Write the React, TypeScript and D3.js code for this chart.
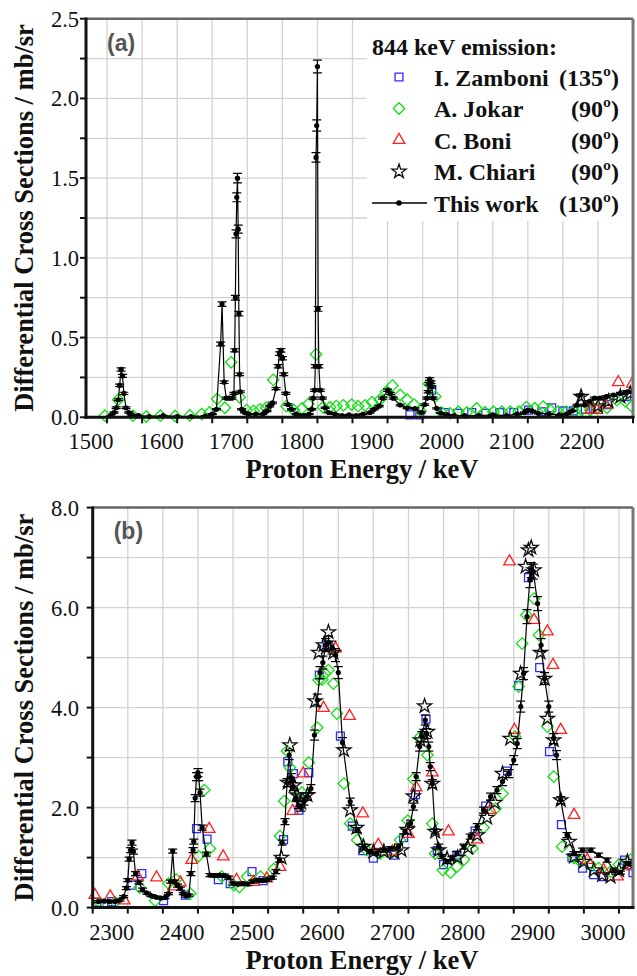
import React from 'react';
import * as d3 from 'd3';

type Pt = [number, number];
type EPt = [number, number, number];

// ---------- panel (a) : 1470 - 2250 keV ----------
const A_ZAMBONI: Pt[] = [
  [1932, 0.015], [1946, 0.015], [1963, 0.17], [1982, 0.03], [2000, 0.025], [2020, 0.03],
  [2040, 0.025], [2060, 0.03], [2080, 0.03], [2101, 0.045], [2120, 0.035], [2134, 0.06],
  [2150, 0.04], [2165, 0.04], [2182, 0.05], [2196, 0.05], [2214, 0.08], [2241, 0.13],
];
const A_JOKAR: Pt[] = [
  [1497, 0.01], [1516, 0.11], [1537, 0.01], [1556, 0.005], [1576, 0.01], [1597, 0.008],
  [1618, 0.012], [1635, 0.02], [1646, 0.03], [1657, 0.115], [1668, 0.06], [1677, 0.345],
  [1689, 0.125], [1699, 0.045], [1709, 0.04], [1718, 0.05], [1727, 0.06], [1737, 0.235],
  [1756, 0.07], [1766, 0.046], [1778, 0.056], [1787, 0.083], [1798, 0.395], [1808, 0.063],
  [1818, 0.063], [1827, 0.07], [1837, 0.075], [1849, 0.08], [1858, 0.07], [1868, 0.075],
  [1878, 0.095], [1889, 0.11], [1898, 0.16], [1907, 0.2], [1918, 0.14], [1928, 0.11],
  [1938, 0.08], [1947, 0.04], [1959, 0.21], [1968, 0.13], [1977, 0.03], [1989, 0.025],
  [2001, 0.035], [2013, 0.03], [2027, 0.055], [2039, 0.03], [2051, 0.035], [2063, 0.035],
  [2075, 0.035], [2087, 0.035], [2098, 0.064], [2110, 0.057], [2122, 0.067], [2132, 0.046],
  [2143, 0.036], [2155, 0.036], [2167, 0.036], [2177, 0.046], [2189, 0.046], [2199, 0.057],
  [2213, 0.06], [2227, 0.108], [2239, 0.1], [2248, 0.07],
];
const A_BONI: Pt[] = [
  [2190, 0.045], [2198, 0.045], [2211, 0.08], [2229, 0.22], [2249, 0.21],
];
const A_CHIARI: Pt[] = [
  [2176, 0.13], [2200, 0.07], [2215, 0.1], [2232, 0.13], [2246, 0.15],
];
const A_THIS: EPt[] = [
  [1505, 0.01, 0.003], [1510, 0.03, 0.004], [1513, 0.06, 0.005], [1516, 0.11, 0.006],
  [1518, 0.2, 0.008], [1520, 0.3, 0.01], [1522, 0.26, 0.009], [1524, 0.15, 0.007],
  [1527, 0.06, 0.005], [1531, 0.03, 0.004], [1536, 0.015, 0.003], [1545, 0.01, 0.003],
  [1560, 0.005, 0.003], [1580, 0.01, 0.003], [1600, 0.005, 0.003], [1620, 0.005, 0.003],
  [1640, 0.008, 0.003], [1650, 0.02, 0.003], [1656, 0.05, 0.004], [1662, 0.46, 0.012],
  [1664, 0.71, 0.014], [1667, 0.22, 0.008], [1670, 0.12, 0.006], [1674, 0.12, 0.006],
  [1678, 0.12, 0.006], [1681, 0.15, 0.006], [1682, 0.42, 0.01], [1683, 0.75, 0.015],
  [1684, 1.15, 0.025], [1685, 1.38, 0.028], [1686, 1.5, 0.03], [1687, 1.18, 0.025],
  [1688, 0.65, 0.014], [1689, 0.27, 0.008], [1690, 0.16, 0.006], [1692, 0.05, 0.004],
  [1696, 0.03, 0.003], [1702, 0.02, 0.003], [1712, 0.02, 0.003], [1722, 0.02, 0.003],
  [1728, 0.04, 0.004], [1732, 0.07, 0.005], [1736, 0.09, 0.005], [1741, 0.18, 0.007],
  [1744, 0.32, 0.01], [1746, 0.4, 0.011], [1748, 0.42, 0.011], [1750, 0.37, 0.01],
  [1752, 0.27, 0.009], [1755, 0.15, 0.006], [1758, 0.08, 0.005], [1763, 0.05, 0.004],
  [1770, 0.02, 0.003], [1780, 0.01, 0.003], [1788, 0.02, 0.003], [1792, 0.05, 0.004],
  [1794, 0.12, 0.006], [1796, 0.17, 0.007], [1797, 0.32, 0.01], [1798, 1.63, 0.03],
  [1799, 1.83, 0.035], [1800, 2.2, 0.04], [1801, 0.68, 0.015], [1802, 0.32, 0.01],
  [1804, 0.17, 0.007], [1807, 0.12, 0.006], [1811, 0.06, 0.004], [1816, 0.03, 0.003],
  [1825, 0.02, 0.003], [1835, 0.01, 0.003], [1845, 0.015, 0.003], [1855, 0.01, 0.003],
  [1865, 0.02, 0.003], [1875, 0.03, 0.004], [1881, 0.05, 0.004], [1888, 0.07, 0.005],
  [1893, 0.12, 0.006], [1900, 0.17, 0.007], [1904, 0.15, 0.006], [1908, 0.12, 0.006],
  [1918, 0.077, 0.005], [1928, 0.058, 0.004], [1939, 0.055, 0.004], [1948, 0.03, 0.004],
  [1953, 0.08, 0.005], [1956, 0.12, 0.006], [1958, 0.16, 0.007], [1959, 0.21, 0.008],
  [1960, 0.24, 0.009], [1962, 0.22, 0.008], [1963, 0.19, 0.007], [1965, 0.12, 0.006],
  [1970, 0.056, 0.004], [1976, 0.027, 0.003], [1985, 0.015, 0.003], [1995, 0.01, 0.003],
  [2010, 0.01, 0.003], [2030, 0.01, 0.003], [2050, 0.015, 0.003], [2070, 0.01, 0.003],
  [2085, 0.02, 0.003], [2095, 0.03, 0.004], [2100, 0.045, 0.004], [2106, 0.04, 0.004],
  [2115, 0.025, 0.003], [2130, 0.02, 0.003], [2145, 0.015, 0.003], [2155, 0.02, 0.003],
  [2163, 0.04, 0.004], [2170, 0.077, 0.005], [2175, 0.14, 0.006], [2181, 0.077, 0.005],
  [2188, 0.1, 0.005], [2195, 0.12, 0.006], [2203, 0.12, 0.006], [2212, 0.13, 0.006],
  [2222, 0.14, 0.006], [2232, 0.15, 0.006], [2242, 0.16, 0.007], [2250, 0.16, 0.007],
];

// ---------- panel (b) : 2250 - 3020 keV ----------
const B_ZAMBONI: Pt[] = [
  [2256, 0.11], [2277, 0.12], [2306, 0.45], [2320, 0.68], [2351, 0.14], [2382, 0.25],
  [2398, 1.58], [2413, 1.37], [2429, 0.56], [2446, 0.48], [2477, 0.72], [2493, 0.54],
  [2522, 1.36], [2528, 2.92], [2536, 2.68], [2544, 1.95], [2558, 2.7], [2573, 4.65],
  [2584, 5.25], [2603, 3.43], [2620, 1.63], [2635, 1.14], [2650, 0.99], [2679, 1.05],
  [2693, 1.4], [2710, 2.26], [2725, 3.77], [2741, 1.14], [2750, 0.86], [2769, 1.05],
  [2795, 1.53], [2810, 2.03], [2841, 2.73], [2857, 4.44], [2871, 6.6], [2887, 4.8],
  [2901, 3.12], [2918, 1.66], [2933, 1.0], [2948, 0.79], [2964, 0.66], [2978, 0.62],
  [3008, 0.95], [3020, 0.7],
];
const B_JOKAR: Pt[] = [
  [2260, 0.1], [2282, 0.11], [2317, 0.4], [2339, 0.14], [2358, 0.48], [2369, 0.56],
  [2389, 0.28], [2401, 1.03], [2409, 2.35], [2417, 1.18], [2434, 0.62], [2451, 0.45],
  [2459, 0.41], [2470, 0.62], [2489, 0.62], [2508, 0.77], [2517, 1.43], [2523, 2.13],
  [2527, 3.13], [2531, 2.8], [2548, 2.3], [2558, 2.9], [2570, 3.6], [2572, 4.55],
  [2577, 4.56], [2581, 4.68], [2586, 4.75], [2593, 4.48], [2598, 3.88], [2608, 2.48],
  [2617, 1.68], [2627, 1.35], [2640, 1.15], [2660, 1.08], [2675, 1.1], [2688, 1.35],
  [2699, 1.74], [2707, 2.57], [2717, 3.42], [2727, 3.05], [2734, 1.68], [2738, 1.08],
  [2749, 0.75], [2760, 0.7], [2769, 0.82], [2779, 0.96], [2791, 1.18], [2807, 1.6],
  [2824, 1.98], [2834, 2.28], [2852, 3.42], [2857, 4.42], [2862, 5.28], [2868, 5.85],
  [2879, 6.18], [2886, 5.45], [2898, 3.62], [2907, 2.62], [2919, 1.22], [2936, 0.99],
  [2945, 0.92], [2959, 0.86], [2971, 0.79], [2988, 0.72], [3000, 0.86], [3017, 0.96],
];
const B_BONI: Pt[] = [
  [2253, 0.25], [2275, 0.22], [2295, 0.14], [2314, 0.62], [2341, 0.6], [2365, 0.42],
  [2375, 0.5], [2391, 0.95], [2416, 1.57], [2436, 1.02], [2455, 0.55], [2479, 0.51],
  [2498, 0.58], [2517, 0.81], [2535, 1.93], [2550, 2.68], [2579, 3.99], [2596, 5.18],
  [2616, 3.83], [2635, 1.88], [2657, 1.25], [2677, 1.12], [2700, 1.47], [2711, 2.4],
  [2734, 2.7], [2757, 1.52], [2798, 1.36], [2817, 1.95], [2844, 6.92], [2851, 3.55],
  [2879, 5.75], [2898, 5.52], [2906, 4.85], [2917, 3.55], [2936, 1.85], [2955, 0.95],
  [2978, 0.75], [2998, 0.62], [3019, 0.82],
];
const B_CHIARI: Pt[] = [
  [2519, 1.0], [2528, 2.5], [2531, 3.25], [2537, 2.45], [2541, 2.25], [2547, 2.1],
  [2556, 2.25], [2567, 4.13], [2572, 5.1], [2579, 5.25], [2586, 5.51], [2593, 5.1],
  [2608, 3.15], [2617, 1.95], [2626, 1.6], [2636, 1.22], [2650, 1.12], [2665, 1.12],
  [2680, 1.1], [2690, 1.15], [2698, 1.56], [2707, 2.23], [2717, 3.35], [2723, 4.03],
  [2727, 3.52], [2734, 2.48], [2738, 1.52], [2743, 1.15], [2755, 0.98], [2770, 1.0],
  [2785, 1.2], [2798, 1.45], [2812, 1.8], [2823, 2.1], [2834, 2.68], [2845, 3.38],
  [2860, 4.68], [2867, 6.82], [2871, 7.15], [2875, 7.2], [2879, 6.75], [2888, 5.1],
  [2894, 4.58], [2898, 3.78], [2907, 3.35], [2917, 2.15], [2929, 1.32], [2936, 1.02],
  [2950, 0.92], [2964, 0.75], [2976, 0.65], [2988, 0.62], [3000, 0.75], [3012, 0.92],
];
const B_THIS: EPt[] = [
  [2258, 0.12, 0.02], [2266, 0.13, 0.02], [2274, 0.12, 0.02], [2282, 0.12, 0.02],
  [2289, 0.15, 0.02], [2294, 0.22, 0.02], [2298, 0.39, 0.03], [2300, 0.55, 0.03],
  [2302, 0.97, 0.04], [2304, 1.15, 0.05], [2306, 1.3, 0.05], [2308, 1.12, 0.05],
  [2311, 0.68, 0.04], [2316, 0.5, 0.03], [2321, 0.36, 0.03], [2327, 0.29, 0.02],
  [2333, 0.24, 0.02], [2340, 0.21, 0.02], [2347, 0.19, 0.02], [2353, 0.2, 0.02],
  [2358, 0.28, 0.02], [2361, 0.52, 0.03], [2364, 1.13, 0.04], [2367, 0.52, 0.03],
  [2371, 0.44, 0.03], [2375, 0.38, 0.03], [2379, 0.28, 0.02], [2383, 0.23, 0.02],
  [2387, 0.25, 0.02], [2390, 0.68, 0.04], [2393, 1.15, 0.05], [2394, 1.32, 0.05],
  [2396, 2.19, 0.07], [2398, 2.62, 0.08], [2400, 2.7, 0.08], [2401, 2.62, 0.08],
  [2403, 2.3, 0.07], [2406, 1.6, 0.05], [2412, 1.07, 0.04], [2417, 0.65, 0.03],
  [2424, 0.64, 0.03], [2431, 0.65, 0.03], [2438, 0.64, 0.03], [2444, 0.6, 0.03],
  [2450, 0.48, 0.03], [2457, 0.47, 0.03], [2464, 0.48, 0.03], [2471, 0.47, 0.03],
  [2478, 0.52, 0.03], [2485, 0.55, 0.03], [2492, 0.54, 0.03], [2499, 0.56, 0.03],
  [2506, 0.6, 0.03], [2511, 0.72, 0.04], [2516, 0.95, 0.04], [2520, 1.3, 0.05],
  [2524, 1.72, 0.06], [2527, 2.5, 0.08], [2530, 3.05, 0.09], [2533, 2.6, 0.08],
  [2536, 2.42, 0.08], [2540, 2.2, 0.07], [2543, 2.05, 0.07], [2547, 2.0, 0.07],
  [2551, 2.12, 0.07], [2556, 2.22, 0.07], [2561, 2.38, 0.08], [2566, 3.45, 0.1],
  [2570, 4.15, 0.12], [2574, 4.7, 0.12], [2578, 4.9, 0.13], [2582, 5.25, 0.13],
  [2586, 5.3, 0.13], [2591, 5.2, 0.13], [2596, 5.05, 0.13], [2600, 4.7, 0.12],
  [2606, 3.3, 0.1], [2617, 2.12, 0.07], [2627, 1.55, 0.05], [2636, 1.22, 0.05],
  [2646, 1.12, 0.04], [2655, 1.09, 0.04], [2665, 1.15, 0.04], [2674, 1.18, 0.04],
  [2686, 1.22, 0.05], [2695, 1.52, 0.05], [2703, 1.69, 0.06], [2707, 2.02, 0.07],
  [2711, 2.62, 0.08], [2716, 3.22, 0.09], [2719, 3.42, 0.1], [2724, 3.75, 0.1],
  [2726, 3.48, 0.1], [2729, 3.22, 0.09], [2731, 2.82, 0.08], [2734, 2.48, 0.08],
  [2738, 1.52, 0.05], [2743, 1.22, 0.05], [2748, 1.02, 0.04], [2755, 0.92, 0.04],
  [2762, 0.98, 0.04], [2769, 1.08, 0.04], [2779, 1.22, 0.05], [2788, 1.42, 0.05],
  [2798, 1.62, 0.06], [2807, 1.95, 0.06], [2817, 2.22, 0.07], [2826, 2.35, 0.07],
  [2834, 2.52, 0.08], [2843, 2.68, 0.08], [2850, 2.95, 0.09], [2855, 3.28, 0.1],
  [2860, 4.02, 0.11], [2864, 4.68, 0.12], [2869, 5.82, 0.14], [2873, 6.55, 0.15],
  [2875, 6.75, 0.15], [2878, 6.72, 0.15], [2884, 6.08, 0.14], [2889, 5.25, 0.13],
  [2894, 4.58, 0.12], [2900, 4.02, 0.11], [2907, 3.38, 0.1], [2911, 3.05, 0.09],
  [2917, 2.15, 0.07], [2926, 1.45, 0.05], [2936, 1.08, 0.04], [2948, 1.15, 0.04],
  [2960, 1.15, 0.04], [2971, 1.05, 0.04], [2983, 0.95, 0.04], [2993, 0.74, 0.03],
  [3002, 0.7, 0.03], [3012, 0.88, 0.04], [3020, 0.92, 0.04],
];

const A_XLABELS = [1500, 1600, 1700, 1800, 1900, 2000, 2100, 2200];
const A_YLABELS = [0, 0.5, 1.0, 1.5, 2.0, 2.5];
const B_XLABELS = [2300, 2400, 2500, 2600, 2700, 2800, 2900, 3000];
const B_YLABELS = [0, 2, 4, 6, 8];

const LEGEND = [
  { kind: 'square', name: 'I. Zamboni', angle: '(135º)' },
  { kind: 'diamond', name: 'A. Jokar', angle: '(90º)' },
  { kind: 'triangle', name: 'C. Boni', angle: '(90º)' },
  { kind: 'star', name: 'M. Chiari', angle: '(90º)' },
  { kind: 'this', name: 'This work', angle: '(130º)' },
];

const SERIF = '"Liberation Serif", "Times New Roman", serif';
const SANS = '"Liberation Sans", Arial, sans-serif';

const symPath: Record<string, string> = {
  square: d3.symbol(d3.symbolSquare, 62)() as string,
  diamond: d3.symbol(d3.symbolSquare, 66)() as string,
  triangle: d3.symbol(d3.symbolTriangle, 58)() as string,
  star: d3.symbol(d3.symbolStar, 62)() as string,
};
const symColor: Record<string, string> = {
  square: '#2b2bff',
  diamond: '#11e011',
  triangle: '#ff2222',
  star: '#111111',
};

function Marker({ kind, x, y }: { kind: string; x: number; y: number }) {
  const rot = kind === 'diamond' ? ' rotate(45)' : '';
  return (
    <path
      d={symPath[kind]}
      transform={`translate(${x},${y})${rot}`}
      fill="none"
      stroke={symColor[kind]}
      strokeWidth={1.3}
    />
  );
}

interface PanelProps {
  id: string;
  left: number;
  right: number;
  top: number;
  bottom: number;
  xDomain: [number, number];
  yDomain: [number, number];
  yGrid: number;
  yFmt: (v: number) => string;
  xLabels: number[];
  yLabels: number[];
  tag: string;
  tagY: number;
  zamboni: Pt[];
  jokar: Pt[];
  boni: Pt[];
  chiari: Pt[];
  thisWork: EPt[];
  legend?: boolean;
}

function Panel(p: PanelProps) {
  const x = d3.scaleLinear().domain(p.xDomain).range([p.left, p.right]);
  const y = d3.scaleLinear().domain(p.yDomain).range([p.bottom, p.top]);
  const xGrid = d3.range(Math.ceil(p.xDomain[0] / 50) * 50, p.xDomain[1] + 1, 50);
  const yGrid = d3.range(p.yDomain[0] + p.yGrid, p.yDomain[1] + 1e-9, p.yGrid);
  const line = d3.line<EPt>().x((d) => x(d[0])).y((d) => y(d[1]));
  const clip = `clip-${p.id}`;
  const midY = (p.top + p.bottom) / 2;
  const midX = 362;

  const lgX = 367;
  const lgRows = [77, 108.5, 140, 171.5, 203];

  return (
    <g>
      <defs>
        <clipPath id={clip}>
          <rect x={p.left - 10} y={p.top} width={p.right - p.left + 10} height={p.bottom - p.top + 10} />
        </clipPath>
      </defs>
      {/* grid */}
      {xGrid.map((g) => (
        <line key={'gx' + g} x1={x(g)} x2={x(g)} y1={p.top} y2={p.bottom} stroke="#d2d2d2" strokeWidth={1.3} />
      ))}
      {yGrid.map((g) => (
        <line key={'gy' + g} x1={p.left} x2={p.right} y1={y(g)} y2={y(g)} stroke="#d2d2d2" strokeWidth={1.3} />
      ))}
      {p.legend && <rect x={lgX} y={p.top + 1} width={p.right - lgX - 1} height={220 - p.top} fill="#ffffff" />}

      <g clipPath={`url(#${clip})`}>
        {p.zamboni.map((d, i) => <Marker key={'z' + i} kind="square" x={x(d[0])} y={y(d[1])} />)}
        {p.jokar.map((d, i) => <Marker key={'j' + i} kind="diamond" x={x(d[0])} y={y(d[1])} />)}
        {p.boni.map((d, i) => <Marker key={'b' + i} kind="triangle" x={x(d[0])} y={y(d[1])} />)}
        {p.chiari.map((d, i) => <Marker key={'c' + i} kind="star" x={x(d[0])} y={y(d[1])} />)}
        <path d={line(p.thisWork) as string} fill="none" stroke="#000" strokeWidth={1.2} />
        {p.thisWork.map((d, i) => {
          const cx = x(d[0]);
          const yHi = y(d[1] + d[2]);
          const yLo = y(d[1] - d[2]);
          return (
            <g key={'t' + i} stroke="#000" strokeWidth={1.2}>
              <line x1={cx} x2={cx} y1={yHi} y2={yLo} />
              <line x1={cx - 4.5} x2={cx + 4.5} y1={yHi} y2={yHi} />
              <line x1={cx - 4.5} x2={cx + 4.5} y1={yLo} y2={yLo} />
              <circle cx={cx} cy={y(d[1])} r={2.6} fill="#000" stroke="none" />
            </g>
          );
        })}
      </g>

      {/* frame */}
      <line x1={p.left} x2={p.right} y1={p.top} y2={p.top} stroke="#666" strokeWidth={2.5} />
      <line x1={p.right} x2={p.right} y1={p.top} y2={p.bottom} stroke="#777" strokeWidth={3} />
      <line x1={p.left} x2={p.left} y1={p.top - 1.2} y2={p.bottom + 1.5} stroke="#111" strokeWidth={3} />
      <line x1={p.left - 1.5} x2={p.right + 1.5} y1={p.bottom} y2={p.bottom} stroke="#111" strokeWidth={3} />

      {/* ticks */}
      {xGrid.map((g) => (
        <line key={'tx' + g} x1={x(g)} x2={x(g)} y1={p.bottom} y2={p.bottom + 6} stroke="#111" strokeWidth={2} />
      ))}
      {[0, ...yGrid].map((g) => (
        <line key={'ty' + g} x1={p.left - 6} x2={p.left} y1={y(g)} y2={y(g)} stroke="#111" strokeWidth={2} />
      ))}

      {/* tick labels */}
      {p.xLabels.map((v) => (
        <text key={'lx' + v} x={x(v) - 16} y={p.bottom + 32} textAnchor="middle" fontFamily={SERIF} fontSize={22.5} fill="#111">
          {v}
        </text>
      ))}
      {p.yLabels.map((v) => (
        <text key={'ly' + v} x={79} y={y(v) + 8} textAnchor="end" fontFamily={SERIF} fontSize={22.5} fill="#111">
          {p.yFmt(v)}
        </text>
      ))}

      {/* titles */}
      <text x={midX} y={p.bottom + 61} textAnchor="middle" fontFamily={SERIF} fontWeight="bold" fontSize={26.5} fill="#111">
        Proton Energy / keV
      </text>
      <text transform={`translate(33,${midY}) rotate(-90)`} textAnchor="middle" fontFamily={SERIF} fontWeight="bold" fontSize={26.5} fill="#111">
        Differential Cross Sections / mb/sr
      </text>
      <text x={p.left + 21} y={p.tagY} fontFamily={SANS} fontWeight="bold" fontSize={23} fill="#555">
        {p.tag}
      </text>

      {p.legend && (
        <g fontFamily={SERIF} fontWeight="bold" fontSize={24} fill="#111">
          <text x={372} y={55}>844 keV emission:</text>
          {LEGEND.map((l, i) => {
            const ry = lgRows[i];
            return (
              <g key={l.name}>
                {l.kind === 'this' ? (
                  <g>
                    <line x1={372} x2={427} y1={ry} y2={ry} stroke="#000" strokeWidth={1.3} />
                    <circle cx={399} cy={ry} r={2.8} fill="#000" />
                  </g>
                ) : (
                  <Marker kind={l.kind} x={399} y={ry} />
                )}
                <text x={434} y={ry + 8.5}>{l.name}</text>
                <text x={619} y={ry + 8.5} textAnchor="end">{l.angle}</text>
              </g>
            );
          })}
        </g>
      )}
    </g>
  );
}

export default function App() {
  return (
    <svg
      width={637}
      height={976}
      viewBox="0 0 637 976"
      style={{ position: 'absolute', left: 0, top: 0, background: '#fff' }}
    >
      <rect x={0} y={0} width={637} height={976} fill="#fff" />
      <Panel
        id="a"
        left={86}
        right={633}
        top={18.7}
        bottom={417.3}
        xDomain={[1470, 2250]}
        yDomain={[0, 2.5]}
        yGrid={0.25}
        yFmt={(v) => v.toFixed(1)}
        xLabels={A_XLABELS}
        yLabels={A_YLABELS}
        tag="(a)"
        tagY={51}
        zamboni={A_ZAMBONI}
        jokar={A_JOKAR}
        boni={A_BONI}
        chiari={A_CHIARI}
        thisWork={A_THIS}
        legend
      />
      <Panel
        id="b"
        left={92.7}
        right={633}
        top={507.6}
        bottom={907.6}
        xDomain={[2250, 3020]}
        yDomain={[0, 8]}
        yGrid={1}
        yFmt={(v) => v.toFixed(1)}
        xLabels={B_XLABELS}
        yLabels={B_YLABELS}
        tag="(b)"
        tagY={539}
        zamboni={B_ZAMBONI}
        jokar={B_JOKAR}
        boni={B_BONI}
        chiari={B_CHIARI}
        thisWork={B_THIS}
      />
    </svg>
  );
}
